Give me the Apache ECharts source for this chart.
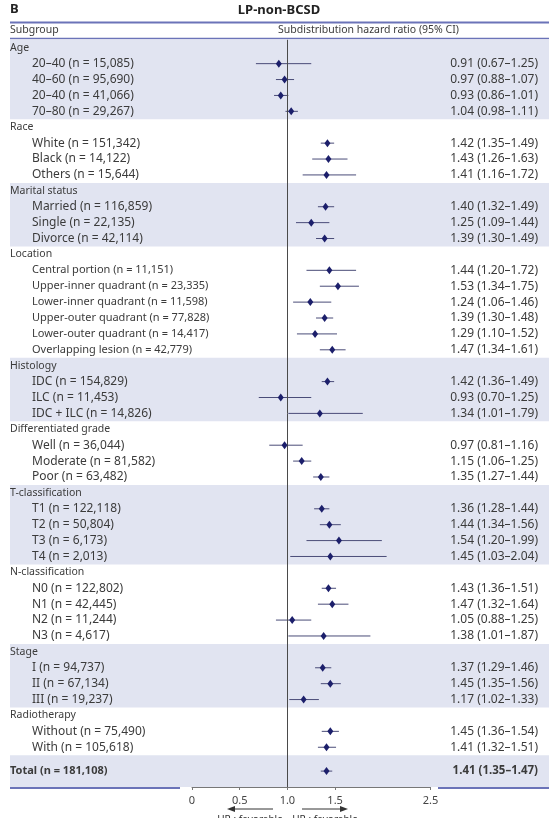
<!DOCTYPE html>
<html>
<head>
<meta charset="utf-8">
<title>LP-non-BCSD</title>
<script src="https://cdn.jsdelivr.net/npm/echarts@6/dist/echarts.min.js"></script>
<style>
  html, body { margin: 0; padding: 0; background: #fff; }
  #forest { width: 549px; height: 818px; }
</style>
</head>
<body>
<div id="forest"></div>
<script>
// data
var groupNames = ['Age', 'Race', 'Marital status', 'Location', 'Histology',
    'Differentiated grade', 'T-classification', 'N-classification', 'Stage', 'Radiotherapy'];

var subLabels = [
    ['20–40 (n = 15,085)', '40–60 (n = 95,690)', '20–40 (n = 41,066)', '70–80 (n = 29,267)'],
    ['White (n = 151,342)', 'Black (n = 14,122)', 'Others (n = 15,644)'],
    ['Married (n = 116,859)', 'Single (n = 22,135)', 'Divorce (n = 42,114)'],
    ['Central portion (n = 11,151)', 'Upper-inner quadrant (n = 23,335)', 'Lower-inner quadrant (n = 11,598)',
     'Upper-outer quadrant (n = 77,828)', 'Lower-outer quadrant (n = 14,417)', 'Overlapping lesion (n = 42,779)'],
    ['IDC (n = 154,829)', 'ILC (n = 11,453)', 'IDC + ILC (n = 14,826)'],
    ['Well (n = 36,044)', 'Moderate (n = 81,582)', 'Poor (n = 63,482)'],
    ['T1 (n = 122,118)', 'T2 (n = 50,804)', 'T3 (n = 6,173)', 'T4 (n = 2,013)'],
    ['N0 (n = 122,802)', 'N1 (n = 42,445)', 'N2 (n = 11,244)', 'N3 (n = 4,617)'],
    ['I (n = 94,737)', 'II (n = 67,134)', 'III (n = 19,237)'],
    ['Without (n = 75,490)', 'With (n = 105,618)']
];

var hrValues = [
    [0.91, 0.97, 0.93, 1.04],
    [1.42, 1.43, 1.41],
    [1.40, 1.25, 1.39],
    [1.44, 1.53, 1.24, 1.39, 1.29, 1.47],
    [1.42, 0.93, 1.34],
    [0.97, 1.15, 1.35],
    [1.36, 1.44, 1.54, 1.45],
    [1.43, 1.47, 1.05, 1.38],
    [1.37, 1.45, 1.17],
    [1.45, 1.41]
];

var ciLower = [
    [0.67, 0.88, 0.86, 0.98],
    [1.35, 1.26, 1.16],
    [1.32, 1.09, 1.30],
    [1.20, 1.34, 1.06, 1.30, 1.10, 1.34],
    [1.36, 0.70, 1.01],
    [0.81, 1.06, 1.27],
    [1.28, 1.34, 1.20, 1.03],
    [1.36, 1.32, 0.88, 1.01],
    [1.29, 1.35, 1.02],
    [1.36, 1.32]
];

var ciUpper = [
    [1.25, 1.07, 1.01, 1.11],
    [1.49, 1.63, 1.72],
    [1.49, 1.44, 1.49],
    [1.72, 1.75, 1.46, 1.48, 1.52, 1.61],
    [1.49, 1.25, 1.79],
    [1.16, 1.25, 1.44],
    [1.44, 1.56, 1.99, 2.04],
    [1.51, 1.64, 1.25, 1.87],
    [1.46, 1.56, 1.33],
    [1.54, 1.51]
];

var totalLabel = 'Total (n = 181,108)';
var totalHR = 1.41;
var totalCI = [1.35, 1.47];

var xTicks = [0, 0.5, 1.0, 1.5, 2.5];

var SHADE = '#e1e4f1';
var RULE = '#6b73b8';
var NAVY = '#1c1f6b';
var TXT = '#3b3b3b';

function fmtHR(v, lo, hi) {
    return v.toFixed(2) + ' (' + lo.toFixed(2) + '–' + hi.toFixed(2) + ')';
}

// rows: one per line of the table, pos = row index on the y axis
var rows = [];
var bands = [];
groupNames.forEach(function (g, gi) {
    var start = rows.length;
    rows.push({ label: g, head: true, pos: rows.length });
    subLabels[gi].forEach(function (s, si) {
        rows.push({
            label: s, head: false, pos: rows.length, narrow: g === 'Location',
            hr: hrValues[gi][si], lo: ciLower[gi][si], hi: ciUpper[gi][si]
        });
    });
    if (gi % 2 === 0) bands.push([start - 0.5, rows.length - 0.5]);
});
var totalPos = rows.length + 0.5;
rows.push({ label: totalLabel, head: true, bold: true, pos: totalPos, hr: totalHR, lo: totalCI[0], hi: totalCI[1] });
bands.push([totalPos - 1, totalPos + 1]);

var estRows = rows.filter(function (r) { return r.hr !== undefined; });

function rowFont(r) {
    if (r.bold) return 'bold 11px "Noto Sans"';
    if (r.head) return '10.5px "Noto Sans"';
    if (r.narrow) return '11px "Noto Sans"';
    return '12px "Noto Sans"';
}

function initForest() {
    var myChart = echarts.init(document.getElementById('forest'));
    var W = 549;

    var option = {
        animation: false,
        backgroundColor: '#fff',
        grid: { left: 192, right: 118.5, top: 39.8, bottom: 31 },
        xAxis: {
            type: 'value',
            min: 0,
            max: 2.5,
            axisLine: { onZero: false, lineStyle: { color: '#777', width: 1 } },
            axisTick: { customValues: xTicks, length: 3, lineStyle: { color: '#777' } },
            axisLabel: {
                customValues: xTicks,
                margin: 8,
                fontSize: 11,
                fontFamily: 'Noto Sans',
                color: '#444',
                formatter: function (v) { return v === 0 ? '0' : v.toFixed(1); }
            },
            splitLine: { show: false }
        },
        yAxis: {
            type: 'value',
            inverse: true,
            min: -0.5,
            max: 46.5,
            show: false
        },
        graphic: [
            { type: 'text', left: 10, top: 3, style: { text: 'B', font: 'bold 13px "Noto Sans"', fill: '#222' } },
            { type: 'text', x: 279, y: 10, style: { text: 'LP-non-BCSD', font: 'bold 13px "Noto Sans"', fill: '#222', align: 'center', verticalAlign: 'middle' } },
            { type: 'line', shape: { x1: 10, y1: 22.5, x2: W, y2: 22.5 }, style: { stroke: RULE, lineWidth: 2 } },
            { type: 'text', x: 10, y: 30.5, style: { text: 'Subgroup', font: '10.5px "Noto Sans"', fill: TXT, verticalAlign: 'middle' } },
            { type: 'text', x: 278, y: 30.5, style: { text: 'Subdistribution hazard ratio (95% CI)', font: '10.5px "Noto Sans"', fill: TXT, verticalAlign: 'middle' } },
            { type: 'line', shape: { x1: 10, y1: 38.5, x2: W, y2: 38.5 }, style: { stroke: RULE, lineWidth: 1.5 } },
            { type: 'line', z: 10, shape: { x1: 10, y1: 788, x2: 180, y2: 788 }, style: { stroke: RULE, lineWidth: 2 } },
            { type: 'line', z: 10, shape: { x1: 438, y1: 788, x2: W, y2: 788 }, style: { stroke: RULE, lineWidth: 2 } },
            // favour arrows
            { type: 'line', shape: { x1: 273, y1: 809, x2: 230, y2: 809 }, style: { stroke: '#333', lineWidth: 1 } },
            { type: 'polygon', shape: { points: [[227, 809], [235, 806], [235, 812]] }, style: { fill: '#333' } },
            { type: 'line', shape: { x1: 302, y1: 809, x2: 345, y2: 809 }, style: { stroke: '#333', lineWidth: 1 } },
            { type: 'polygon', shape: { points: [[348, 809], [340, 806], [340, 812]] }, style: { fill: '#333' } },
            { type: 'text', x: 250, y: 815, style: { text: 'HR : favorable', font: '10px "Noto Sans"', fill: '#333', align: 'center', verticalAlign: 'top' } },
            { type: 'text', x: 325, y: 815, style: { text: 'HR : favorable', font: '10px "Noto Sans"', fill: '#333', align: 'center', verticalAlign: 'top' } }
        ],
        series: [
            {
                // group shading
                type: 'custom',
                z: 0,
                silent: true,
                data: bands,
                renderItem: function (params, api) {
                    var y0 = api.coord([0, api.value(0)])[1];
                    var y1 = api.coord([0, api.value(1)])[1];
                    return {
                        type: 'rect',
                        shape: { x: 10, y: y0, width: api.getWidth() - 10, height: y1 - y0 },
                        style: { fill: SHADE }
                    };
                }
            },
            {
                // row texts
                type: 'custom',
                z: 3,
                silent: true,
                data: rows.map(function (r) { return [0, r.pos]; }),
                renderItem: function (params, api) {
                    var r = rows[params.dataIndex];
                    var y = api.coord([0, r.pos])[1];
                    var kids = [{
                        type: 'text',
                        x: r.head ? 10 : 32,
                        y: y,
                        style: { text: r.label, font: rowFont(r), fill: TXT, verticalAlign: 'middle' }
                    }];
                    if (r.hr !== undefined) {
                        kids.push({
                            type: 'text',
                            x: 538,
                            y: y,
                            style: { text: fmtHR(r.hr, r.lo, r.hi), font: r.bold ? 'bold 11.5px "Noto Sans"' : '12px "Noto Sans"', fill: TXT, align: 'right', verticalAlign: 'middle' }
                        });
                    }
                    return { type: 'group', children: kids };
                }
            },
            {
                // confidence intervals
                type: 'custom',
                z: 4,
                silent: true,
                data: estRows.map(function (r) { return [r.lo, r.hi, r.pos]; }),
                renderItem: function (params, api) {
                    var a = api.coord([api.value(0), api.value(2)]);
                    var b = api.coord([api.value(1), api.value(2)]);
                    return {
                        type: 'line',
                        shape: { x1: a[0], y1: a[1], x2: b[0], y2: b[1] },
                        style: { stroke: '#4a4c78', lineWidth: 1 }
                    };
                }
            },
            {
                type: 'scatter',
                z: 5,
                symbol: 'diamond',
                symbolSize: [6, 8],
                itemStyle: { color: NAVY, opacity: 1 },
                data: estRows.map(function (r) { return [r.hr, r.pos]; }),
                markLine: {
                    silent: true,
                    symbol: 'none',
                    label: { show: false },
                    lineStyle: { color: '#4a4a4a', type: 'solid', width: 1 },
                    data: [{ xAxis: 1 }]
                }
            }
        ]
    };

    myChart.setOption(option);
    resize(myChart);
}

function resize(echart) {
    window.onresize = function () {
        echart.resize();
    };
}

initForest();
</script>
</body>
</html>
